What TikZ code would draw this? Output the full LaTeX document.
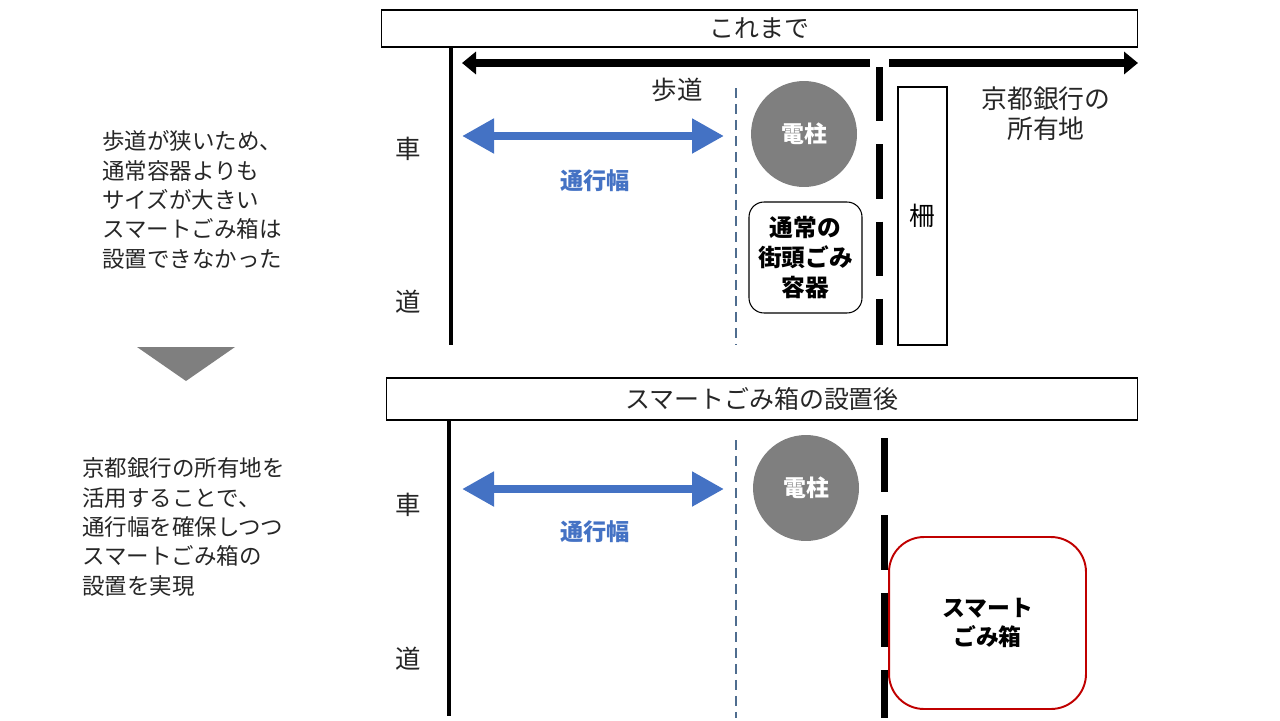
\documentclass[tikz,border=0pt]{standalone}
\usepackage{fontspec}
\setmainfont{Noto Sans CJK JP}
\usetikzlibrary{arrows.meta,positioning}

\definecolor{widthblue}{HTML}{4472C4}
\definecolor{guideblue}{HTML}{4F6D8F}
\definecolor{polegray}{HTML}{7F7F7F}
\definecolor{binred}{HTML}{C00000}
\definecolor{textgray}{HTML}{262626}

\tikzset{
    titlebox/.style={rectangle, draw, line width=0.6pt, inner sep=0pt,
        font=\fontsize{14.2}{17}\selectfont, text=textgray},
    roadline/.style={line width=2.3pt},
    fenceline/.style={line width=4pt, dash pattern=on 31pt off 13pt},
    guideline/.style={guideblue, line width=0.9pt, dash pattern=on 5.7pt off 3.4pt},
    widtharrow/.style={widthblue, line width=5.1pt,
        {Triangle[length=0.64cm,width=0.66cm]}-{Triangle[length=0.64cm,width=0.66cm]}},
    landarrow/.style={line width=5pt, -{Triangle[length=0.28cm,width=0.44cm]}},
    label/.style={font=\fontsize{14.5}{17}\selectfont, text=textgray, inner sep=0pt},
    note/.style={font=\fontsize{12.8}{16.7}\selectfont, text=textgray, align=left, inner sep=0pt},
    widthlabel/.style={font=\fontsize{13.2}{16}\selectfont\bfseries, text=widthblue, inner sep=0pt},
    pole/.style={circle, fill=polegray, minimum size=2.12cm, inner sep=0pt,
        font=\fontsize{13}{16}\selectfont\bfseries, text=white},
    binbox/.style={rectangle, draw, rounded corners=0.3cm, line width=0.6pt,
        minimum width=2.26cm, minimum height=2.22cm, inner sep=0pt, align=center,
        font=\fontsize{13.5}{17}\selectfont\bfseries},
    fencebox/.style={rectangle, draw, line width=0.6pt, minimum width=0.98cm,
        minimum height=5.16cm, inner sep=0pt, font=\fontsize{14.5}{17}\selectfont},
    smartbox/.style={rectangle, draw=binred, rounded corners=0.7cm, line width=1.1pt,
        minimum width=3.94cm, minimum height=3.44cm, inner sep=0pt, align=center,
        font=\fontsize{13}{17}\selectfont\bfseries}
}

\begin{document}
\begin{tikzpicture}[x=0.02cm, y=-0.02cm]
    \useasboundingbox (0,0) rectangle (1280,720);

    % Left notes
    \node[note, anchor=west] (note1) at (102,200) {
        歩道が狭いため、\\
        通常容器よりも\\
        サイズが大きい\\
        スマートごみ箱は\\
        設置できなかった
    };
    \fill[polegray] (137,347) -- (235,347) -- (186,381) -- cycle;
    \node[note, anchor=west] (note2) at (82,527) {
        京都銀行の所有地を\\
        活用することで、\\
        通行幅を確保しつつ\\
        スマートごみ箱の\\
        設置を実現
    };

    % Before
    \node[titlebox, minimum width=15.14cm, minimum height=0.74cm] (title1) at (759.5,28.5) {これまで};
    \draw[roadline] (451,48) -- (451,345);
    \node[label] (car1) at (408,149) {車};
    \node[label] (road1) at (408,302) {道};
    \node[label] (walk) at (677,90) {歩道};

    \coordinate (walkL) at (870,63);
    \coordinate (walkTip) at (462,63);
    \coordinate (landL) at (889,63);
    \coordinate (landTip) at (1138,63);
    \draw[landarrow] (walkL) -- (walkTip);
    \draw[landarrow] (landL) -- (landTip);

    \draw[guideline] (736,88) -- (736,345);
    \draw[fenceline] (879,67) -- (879,345);

    \coordinate (w1l) at (462,136);
    \coordinate (w1r) at (724,136);
    \draw[widtharrow] (w1l) -- (w1r);
    \node[widthlabel] (wlabel1) at (595,181) {通行幅};

    \node[pole] (pole1) at (804,134) {電柱};
    \node[binbox] (bin1) at (805.5,257.5) {通常の\\街頭ごみ\\容器};
    \node[fencebox] (fence) at (922.5,216) {柵};
    \node[label, align=center, font=\fontsize{14.7}{17}\selectfont] (land) at (1046,114) {京都銀行の\\所有地};

    % After
    \node[titlebox, minimum width=15.04cm, minimum height=0.84cm] (title2) at (762,399) {スマートごみ箱の設置後};
    \draw[roadline] (449,421) -- (449,716);
    \node[label] (car2) at (408,505) {車};
    \node[label] (road2) at (408,659) {道};

    \draw[guideline] (736,440) -- (736,718);
    \draw[fenceline] (884,438) -- (884,718);

    \coordinate (w2l) at (462,489);
    \coordinate (w2r) at (724,489);
    \draw[widtharrow] (w2l) -- (w2r);
    \node[widthlabel] (wlabel2) at (595,532) {通行幅};

    \node[pole] (pole2) at (806,488) {電柱};
    \node[smartbox, fill=white] (smart) at (987.5,623) {スマート\\ごみ箱};

\end{tikzpicture}
\end{document}
